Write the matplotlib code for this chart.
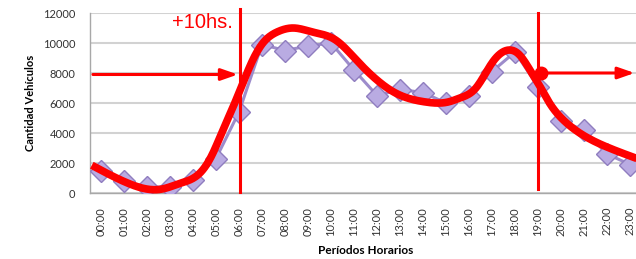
import numpy as np
import matplotlib
matplotlib.use("Agg")
import matplotlib.pyplot as plt

hours = ["00:00", "01:00", "02:00", "03:00", "04:00", "05:00", "06:00", "07:00",
         "08:00", "09:00", "10:00", "11:00", "12:00", "13:00", "14:00", "15:00",
         "16:00", "17:00", "18:00", "19:00", "20:00", "21:00", "22:00", "23:00"]
vehicles = [1500, 800, 400, 400, 850, 2300, 5400, 9900, 9500, 9800, 10000, 8200,
            6500, 6900, 6700, 6000, 6500, 8100, 9400, 7100, 4800, 4200, 2600, 1900]

# hand-drawn red trend curve (control points: hour position, value)
curve_x = [-0.4, 1.1, 2.6, 3.45, 4.3, 4.87, 5.3, 5.74, 6.17, 6.6, 7.04, 7.65, 8.35,
           9.2, 10.2, 11.1, 12.0, 12.8, 14.1, 15.1, 15.6, 16.3, 17.0, 17.8, 18.2,
           18.65, 19.1, 19.5, 20.1, 21.1, 22.1, 23.3]
curve_y = [1850, 700, 250, 650, 1330, 2670, 4200, 5730, 7330, 8870, 10000, 10730,
           11000, 10730, 10200, 8870, 7530, 6670, 6070, 6070, 6330, 7000, 8670,
           9530, 9200, 8200, 7070, 6000, 4870, 3730, 3000, 2300]

left_arrow_y = 7900
right_arrow_y = 8000

def natural_spline(xs, ys, n=600):
    xs = np.asarray(xs, float); ys = np.asarray(ys, float)
    m = len(xs)
    h = np.diff(xs)
    A = np.zeros((m, m)); b = np.zeros(m)
    A[0, 0] = 1; A[-1, -1] = 1
    for i in range(1, m-1):
        A[i, i-1] = h[i-1]; A[i, i] = 2*(h[i-1]+h[i]); A[i, i+1] = h[i]
        b[i] = 6*((ys[i+1]-ys[i])/h[i] - (ys[i]-ys[i-1])/h[i-1])
    M = np.linalg.solve(A, b)
    xx = np.linspace(xs[0], xs[-1], n)
    idx = np.clip(np.searchsorted(xs, xx) - 1, 0, m-2)
    x0, x1 = xs[idx], xs[idx+1]; hh = x1 - x0
    a = (x1 - xx)/hh; bb = (xx - x0)/hh
    yy = (a*ys[idx] + bb*ys[idx+1]
          + ((a**3 - a)*M[idx] + (bb**3 - bb)*M[idx+1])*hh**2/6)
    return xx, yy

fig = plt.figure(figsize=(6.36, 2.59), dpi=100)
ax = fig.add_axes([89.5/636, 1-193/259, 552/636, 180/259])

x = np.arange(len(hours))
ax.set_xlim(-0.5, len(hours)-0.5)
ax.set_ylim(0, 12000)
ax.set_yticks(range(0, 12001, 2000))
ax.yaxis.grid(True, color="#d2d2d2", lw=1.5)
ax.set_axisbelow(True)
for s in ["top", "right"]:
    ax.spines[s].set_visible(False)
for s in ["left", "bottom"]:
    ax.spines[s].set_color("#a8a8a8")
    ax.spines[s].set_linewidth(1.0)
ax.tick_params(length=0, labelsize=8, colors="#333333")
ax.tick_params(axis="y", pad=10)
ax.tick_params(axis="x", pad=10)
ax.set_xticks(x)
ax.set_xticklabels(hours, rotation=90, fontfamily="Lato")
for lab in ax.get_yticklabels():
    lab.set_fontfamily("Lato")

ax.plot(x, vehicles, color="#9d8ccb", lw=2.2, marker="D", markersize=11.5,
        markerfacecolor="#b9abe2", markeredgecolor="#8f7dbf", markeredgewidth=1.0,
        zorder=3)

cx, cy = natural_spline(curve_x, curve_y)
ax.plot(cx, cy, color="#ff0000", lw=5.5, solid_capstyle="butt", zorder=4, clip_on=False)

red = "#ff0000"
ax.plot([6.05, 6.05], [12250, 60], color=red, lw=2.2, clip_on=False, zorder=5)
ax.plot([19.0, 19.0], [12000, 300], color=red, lw=2.2, clip_on=False, zorder=5)
ax.annotate("", xy=(5.95, left_arrow_y), xytext=(-0.35, left_arrow_y),
            arrowprops=dict(arrowstyle="-|>,head_length=1.0,head_width=0.35",
                            color=red, lw=2.2, shrinkA=0, shrinkB=0),
            annotation_clip=False, zorder=5)
ax.annotate("", xy=(23.2, right_arrow_y), xytext=(19.2, right_arrow_y),
            arrowprops=dict(arrowstyle="-|>,head_length=1.0,head_width=0.35",
                            color=red, lw=2.2, shrinkA=0, shrinkB=0),
            annotation_clip=False, zorder=5)
ax.plot([19.15], [right_arrow_y], "o", color=red, markersize=9, clip_on=False, zorder=6)
ax.text(5.75, 11350, "+10hs.", color=red, fontsize=14.5, fontfamily="Liberation Sans",
        ha="right", va="center")

ax.set_ylabel("Cantidad Vehículos", fontsize=8, fontweight="bold", fontfamily="Lato",
              labelpad=5)
ax.set_xlabel("Períodos Horarios", fontsize=8.5, fontweight="bold", fontfamily="Lato",
              labelpad=7)

fig.savefig("out.png", dpi=100)
